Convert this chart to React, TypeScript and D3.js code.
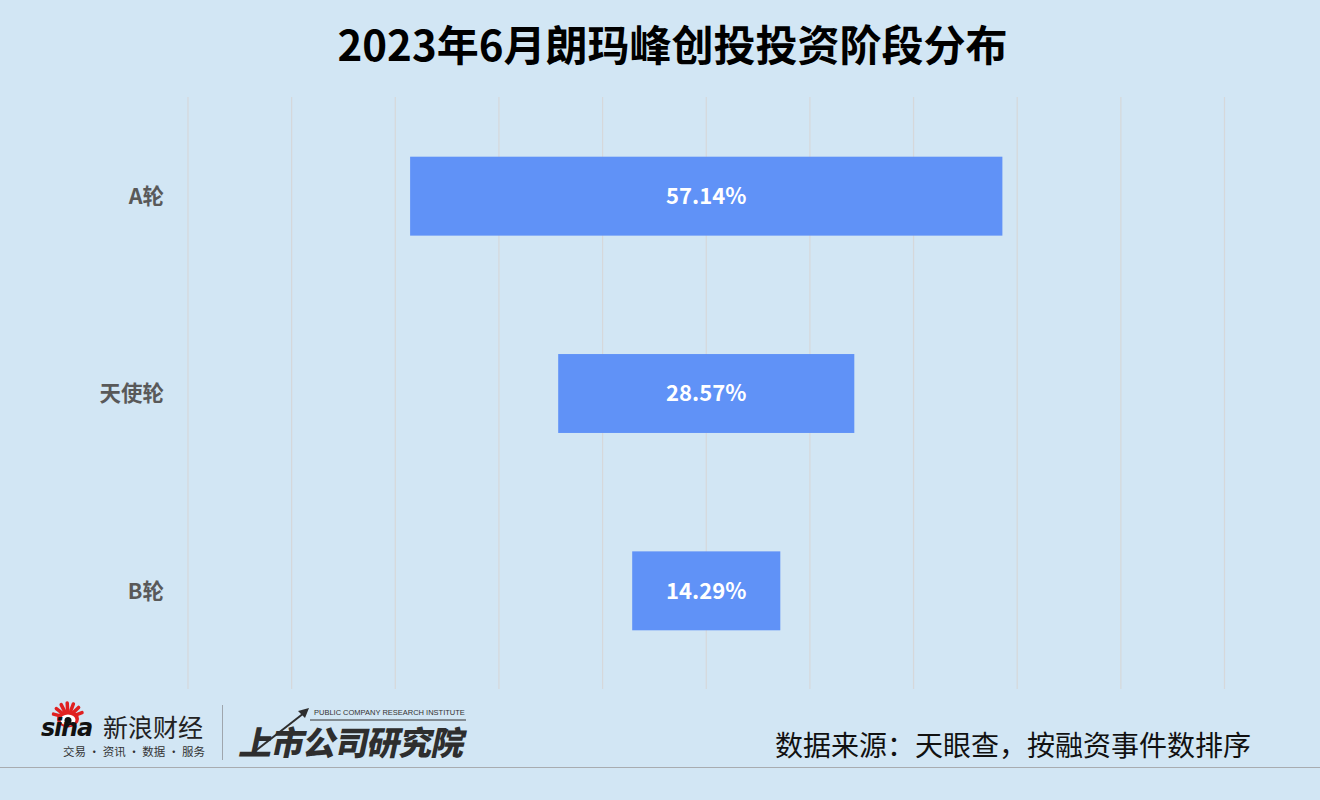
import React from "react";
import * as d3 from "d3";

const categories = ["A轮", "天使轮", "B轮"];
const values = [57.14, 28.57, 14.29];
const gridTicks = [-50, -40, -30, -20, -10, 0, 10, 20, 30, 40, 50];
const title = "2023年6月朗玛峰创投投资阶段分布";
const source = "数据来源：天眼查，按融资事件数排序";

const W = 1320;
const H = 800;
const CJK = "'Noto Sans CJK SC', 'Noto Sans', sans-serif";

export default function App() {
  const x = d3.scaleLinear().domain([-50, 50]).range([188, 1224.5]);
  const y = d3
    .scaleBand<string>()
    .domain(categories)
    .range([97.5, 689.5])
    .paddingInner(0.6)
    .paddingOuter(0.3);

  const rays = d3.range(7).map((i) => (-165 + i * 24) * (Math.PI / 180));

  return (
    <svg
      width={W}
      height={H}
      style={{ position: "fixed", left: 0, top: 0, display: "block" }}
    >
      <rect x={0} y={0} width={W} height={H} fill="#d2e6f4" />
      <text
        x={672.5}
        y={61}
        textAnchor="middle"
        fontFamily={CJK}
        fontWeight={700}
        fontSize={42}
        fill="#000"
      >
        {title}
      </text>

      {gridTicks.map((t) => (
        <line
          key={t}
          x1={x(t)}
          x2={x(t)}
          y1={97}
          y2={689}
          stroke="#d6d8da"
          strokeWidth={1.2}
        />
      ))}

      {categories.map((c, i) => {
        const v = values[i];
        const y0 = y(c)!;
        const bw = y.bandwidth();
        return (
          <g key={c}>
            <rect
              x={x(-v / 2)}
              y={y0}
              width={x(v / 2) - x(-v / 2)}
              height={bw}
              fill="#6092f7"
            />
            <text
              x={x(0)}
              y={y0 + bw / 2}
              dy="0.36em"
              textAnchor="middle"
              fontFamily={CJK}
              fontWeight={700}
              fontSize={22}
              fill="#ffffff"
            >
              {v.toFixed(2)}%
            </text>
            <text
              x={164}
              y={y0 + bw / 2}
              dy="0.36em"
              textAnchor="end"
              fontFamily={CJK}
              fontWeight={700}
              fontSize={21.5}
              fill="#595959"
            >
              {c}
            </text>
          </g>
        );
      })}

      {/* footer: sina logo */}
      <g>
        <g transform="translate(68,718)">
          {rays.map((a, i) => (
            <line
              key={i}
              x1={Math.cos(a) * 8}
              y1={Math.sin(a) * 8}
              x2={Math.cos(a) * 15}
              y2={Math.sin(a) * 15}
              stroke="#e02020"
              strokeWidth={3.5}
              strokeLinecap="round"
            />
          ))}
          <ellipse cx={0} cy={1} rx={11} ry={8.5} fill="#e02020" />
          <ellipse cx={0} cy={2} rx={7.5} ry={5.5} fill="#ffffff" />
          <circle cx={0} cy={2.5} r={3.5} fill="#111" />
        </g>
        <text
          x={41}
          y={736}
          fontFamily="'DejaVu Sans', sans-serif"
          fontWeight={700}
          fontStyle="italic"
          fontSize={24}
          fill="#111"
          letterSpacing={-1.2}
        >
          sina
        </text>
        <text x={103} y={737} fontFamily={CJK} fontSize={25} fill="#222">
          新浪财经
        </text>
        <text x={63} y={756} fontFamily={CJK} fontSize={11.5} fill="#333">
          交易 · 资讯 · 数据 · 服务
        </text>
        <line x1={222.5} x2={222.5} y1={705} y2={760} stroke="#9fa6ad" strokeWidth={1} />
      </g>

      {/* footer: 上市公司研究院 */}
      <g>
        <text
          x={314}
          y={715}
          fontFamily="'Liberation Sans', Arial, sans-serif"
          fontSize={7.5}
          fill="#333"
          letterSpacing={0.2}
          textLength={151}
          lengthAdjust="spacing"
        >
          PUBLIC COMPANY RESEARCH INSTITUTE
        </text>
        <line x1={310} x2={466} y1={720} y2={720} stroke="#333" strokeWidth={1} />
        <g transform="translate(238,755) skewX(-12)">
          <text
            x={0}
            y={0}
            fontFamily={CJK}
            fontWeight={900}
            fontSize={33}
            fill="#2e2e2e"
            letterSpacing={-1}
          >
            上市公司研究院
          </text>
        </g>
        <line x1={254} x2={304} y1={752} y2={713} stroke="#2e2e2e" strokeWidth={2} />
        <path d="M309,708 L298,711 L305,718 Z" fill="#2e2e2e" />
      </g>

      <text
        x={1251}
        y={756}
        textAnchor="end"
        fontFamily={CJK}
        fontSize={28}
        fill="#111"
      >
        {source}
      </text>
      <line x1={0} x2={W} y1={767.5} y2={767.5} stroke="#a8acb0" strokeWidth={1.2} />
    </svg>
  );
}
